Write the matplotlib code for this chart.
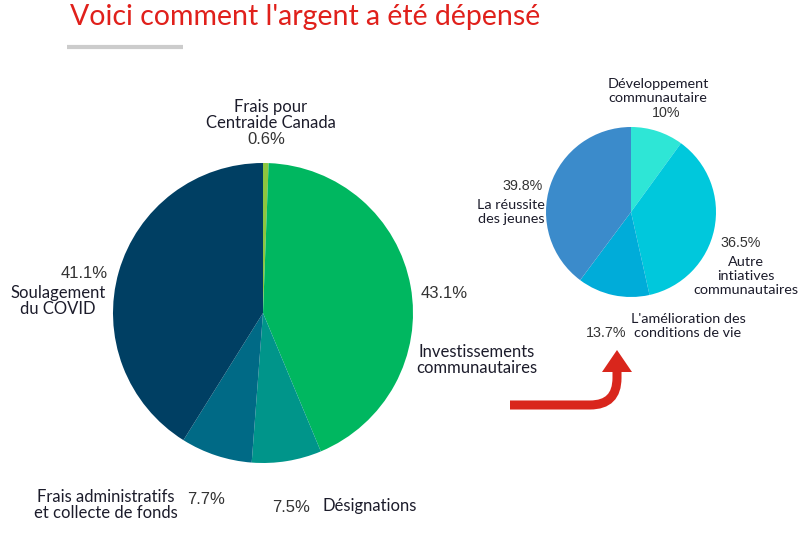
import numpy as np
import matplotlib.pyplot as plt
from matplotlib.patches import Polygon
from matplotlib.path import Path
from matplotlib.patches import PathPatch

W, H = 810, 535

# main pie: how the money was spent
main_labels = ["Frais pour\nCentraide Canada", "Investissements\ncommunautaires",
               "Désignations", "Frais administratifs\net collecte de fonds",
               "Soulagement\ndu COVID"]
main_values = [0.6, 43.1, 7.5, 7.7, 41.1]
main_colors = ["#8dc63f", "#00b760", "#00958a", "#006a86", "#003f63"]

# detail pie: community investments
sub_labels = ["Développement\ncommunautaire", "Autre\nintiatives\ncommunautaires",
              "L'amélioration des\nconditions de vie", "La réussite\ndes jeunes"]
sub_values = [10, 36.5, 13.7, 39.8]
sub_colors = ["#2ee6d6", "#00c8dc", "#00acd9", "#3b8bcb"]

label_font = ["Lato", "DejaVu Sans"]
pct_font = ["Liberation Sans", "DejaVu Sans"]
dark = "#1c1c2b"
gray = "#333333"


def py(y):
    return H - y


def fmt(v):
    return f"{v:g}%"


fig = plt.figure(figsize=(W / 100, H / 100), dpi=100)
ax = fig.add_axes([0, 0, 1, 1])

ax.pie(main_values, colors=main_colors, startangle=90, counterclock=False,
       center=(263, py(313)), radius=150, wedgeprops=dict(linewidth=0))
ax.pie(sub_values, colors=sub_colors, startangle=90, counterclock=False,
       center=(631, py(212)), radius=85, wedgeprops=dict(linewidth=0))

ax.set_xlim(0, W)
ax.set_ylim(0, H)
ax.set_aspect("equal")
ax.axis("off")

# title and underline
ax.text(70, py(17), "Voici comment l'argent a été dépensé", color="#e0201b",
        fontsize=20.5, family=label_font, va="center", ha="left")
ax.plot([67, 183], [py(47), py(47)], color="#cccccc", lw=3, solid_capstyle="butt")

lbl = dict(family=label_font, color=dark, fontsize=12, linespacing=1.05)
pct = dict(family=pct_font, color=gray, fontsize=12)

# main pie labels
ax.text(271, py(115), main_labels[0], ha="center", va="center", **lbl)
ax.text(266, py(140), fmt(main_values[0]), ha="center", va="center", **pct)
ax.text(421, py(293), fmt(main_values[1]), ha="left", va="center", **pct)
ax.text(477, py(360), main_labels[1], ha="center", va="center", **lbl)
ax.text(310, py(507), fmt(main_values[2]), ha="right", va="center", **pct)
ax.text(322, py(506), main_labels[2], ha="left", va="center", **lbl)
ax.text(106, py(505), main_labels[3], ha="center", va="center", **lbl)
ax.text(187, py(500), fmt(main_values[3]), ha="left", va="center", **pct)
ax.text(108, py(273), fmt(main_values[4]), ha="right", va="center", **pct)
ax.text(58, py(301), main_labels[4], ha="center", va="center", **lbl)

slbl = dict(family=label_font, color=dark, fontsize=10.4, linespacing=1.2)
spct = dict(family=pct_font, color=gray, fontsize=10.3)

ax.text(658, py(91), sub_labels[0], ha="center", va="center", **slbl)
ax.text(666, py(113), fmt(sub_values[0]), ha="center", va="center", **spct)
ax.text(761, py(243), fmt(sub_values[1]), ha="right", va="center", **spct)
ax.text(746, py(276), sub_labels[1], ha="center", va="center", **slbl)
ax.text(688, py(326), sub_labels[2], ha="center", va="center", **slbl)
ax.text(626, py(333), fmt(sub_values[2]), ha="right", va="center", **spct)
ax.text(543, py(186), fmt(sub_values[3]), ha="right", va="center", **spct)
ax.text(545, py(212), sub_labels[3], ha="right", va="center", **slbl)

# curved red arrow
red = "#d9261c"
verts = [(510, py(405)), (590, py(405)), (617, py(405)), (617, py(378)), (617, py(370))]
codes = [Path.MOVETO, Path.LINETO, Path.CURVE3, Path.CURVE3, Path.LINETO]
ax.add_patch(PathPatch(Path(verts, codes), facecolor="none", edgecolor=red,
                       lw=6.5, capstyle="butt"))
ax.add_patch(Polygon([(602, py(372)), (632, py(372)), (617, py(350))],
                     closed=True, facecolor=red, edgecolor="none"))

fig.savefig("out.png", dpi=100)
